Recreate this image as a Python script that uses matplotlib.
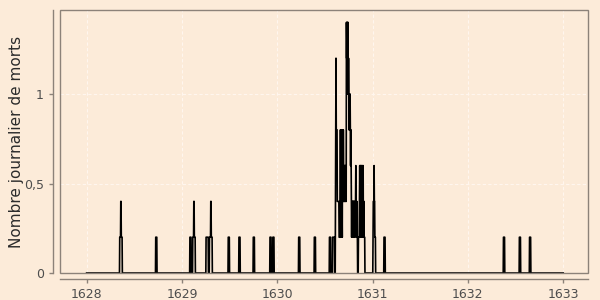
import numpy as np
import matplotlib
matplotlib.use("Agg")
from matplotlib import pyplot as plt
from matplotlib.patches import Rectangle

# series range (daily values)
SERIES_START = "1628-01-01"
SERIES_END = "1633-01-01"

# first day of each episode with non-zero deaths, and its daily values
episode_start = [
    "1628-05-07", "1628-09-22", "1629-01-31", "1629-02-11", "1629-04-03",
    "1629-04-16", "1629-06-27", "1629-08-07", "1629-10-01", "1629-12-04",
    "1629-12-15", "1630-03-24", "1630-05-23", "1630-07-20", "1630-08-01",
    "1630-08-12", "1631-01-03", "1631-02-14", "1632-05-17", "1632-07-17",
    "1632-08-25",
]
episode_values = [
    [0.2, 0.2, 0.2, 0.2, 0.4, 0.4, 0.2, 0.2, 0.2, 0.2],
    [0.2] * 5,
    [0.2] * 5,
    [0.2, 0.2, 0.2, 0.2, 0.4, 0.4, 0.2, 0.2, 0.2, 0.2],
    [0.2] * 9,
    [0.2, 0.2, 0.2, 0.2, 0.2, 0.4, 0.4, 0.2, 0.2, 0.2, 0.2],
    [0.2] * 5,
    [0.2] * 5,
    [0.2] * 5,
    [0.2] * 5,
    [0.2] * 5,
    [0.2] * 5,
    [0.2] * 5,
    [0.2] * 5,
    [0.2] * 8,
    [0.4, 0.8, 1.2, 0.8, 0.8, 0.8, 0.8,
     0.4, 0.4, 0.4, 0.4, 0.4, 0.4, 0.4,
     0.2, 0.2, 0.2, 0.2, 0.2,
     0.8, 0.2, 0.8, 0.4, 0.6, 0.8, 0.4, 0.2, 0.8, 0.6, 0.4, 0.8, 0.6,
     0.4, 0.6, 0.4, 0.6, 0.6, 0.4, 0.6, 0.6, 0.4, 0.4,
     1.4, 1.2, 1.4, 1.0, 1.4, 1.2, 1.4, 1.0, 1.2,
     1.0, 0.8, 1.0, 0.8, 0.8, 1.0,
     0.8, 0.6, 0.8, 0.6,
     0.4, 0.2, 0.4, 0.2, 0.4, 0.4, 0.2, 0.4, 0.2, 0.4, 0.2, 0.4, 0.4, 0.2,
     0.2, 0.4, 0.4, 0.6, 0.4, 0.4, 0.2, 0.4, 0.2, 0.2,
     0.0, 0.0, 0.0, 0.2, 0.2, 0.2, 0.2, 0.4,
     0.6, 0.4, 0.6, 0.2, 0.6, 0.4, 0.6, 0.6, 0.4, 0.2,
     0.4, 0.6, 0.4, 0.6, 0.2, 0.4, 0.4, 0.2, 0.2, 0.2],
    [0.2, 0.4, 0.4, 0.4, 0.6, 0.4, 0.4, 0.2, 0.2, 0.2],
    [0.2] * 5,
    [0.2] * 5,
    [0.2] * 5,
    [0.2] * 5,
]

y_ticks = [0, 0.5, 1]
y_tick_labels = ["0", "0,5", "1"]
x_years = [1628, 1629, 1630, 1631, 1632, 1633]

BG = "#fcebd9"
FRAME = "#8c8279"


def build_series():
    days = np.arange(np.datetime64(SERIES_START), np.datetime64(SERIES_END) + 1)
    vals = np.zeros(len(days))
    base = np.datetime64(SERIES_START)
    for start, values in zip(episode_start, episode_values):
        i = int((np.datetime64(start) - base).astype(int))
        vals[i:i + len(values)] = values
    return days, vals


days, vals = build_series()

fig = plt.figure(figsize=(6, 3), dpi=100, facecolor=BG)
ax = fig.add_axes([0.1, 0.09, 0.88, 0.877], facecolor=BG)

ax.plot(days.astype("datetime64[D]"), vals, color="black", lw=1.2)

ax.set_ylim(0, 1.47)
ax.set_xlim(np.datetime64("1627-09-21"), np.datetime64("1633-04-06"))

ax.set_yticks(y_ticks)
ax.set_yticklabels(y_tick_labels)
ax.set_xticks([np.datetime64(f"{y}-01-01") for y in x_years])
ax.set_xticklabels([str(y) for y in x_years])

ax.grid(True, color="#fff6ee", lw=0.8, ls=(0, (3, 2)))
ax.set_axisbelow(True)

# offset axis lines, plus a full frame around the panel
for side in ["top", "right"]:
    ax.spines[side].set_visible(False)
ax.spines["left"].set_position(("outward", 5))
ax.spines["bottom"].set_position(("outward", 4))
for side in ["left", "bottom"]:
    ax.spines[side].set_color(FRAME)
    ax.spines[side].set_linewidth(1)
ax.add_patch(Rectangle((0, 0), 1, 1, transform=ax.transAxes, fill=False,
                       ec=FRAME, lw=1, clip_on=False, zorder=5))

ax.tick_params(axis="both", colors=FRAME, labelcolor="#4d4d4d",
               labelsize=9, length=3, width=1)
ax.set_ylabel("Nombre journalier de morts", fontsize=11, color="#2b2b2b")
ax.yaxis.set_label_coords(-0.069, 0.5)

fig.savefig("out.png", dpi=100, facecolor=BG)
